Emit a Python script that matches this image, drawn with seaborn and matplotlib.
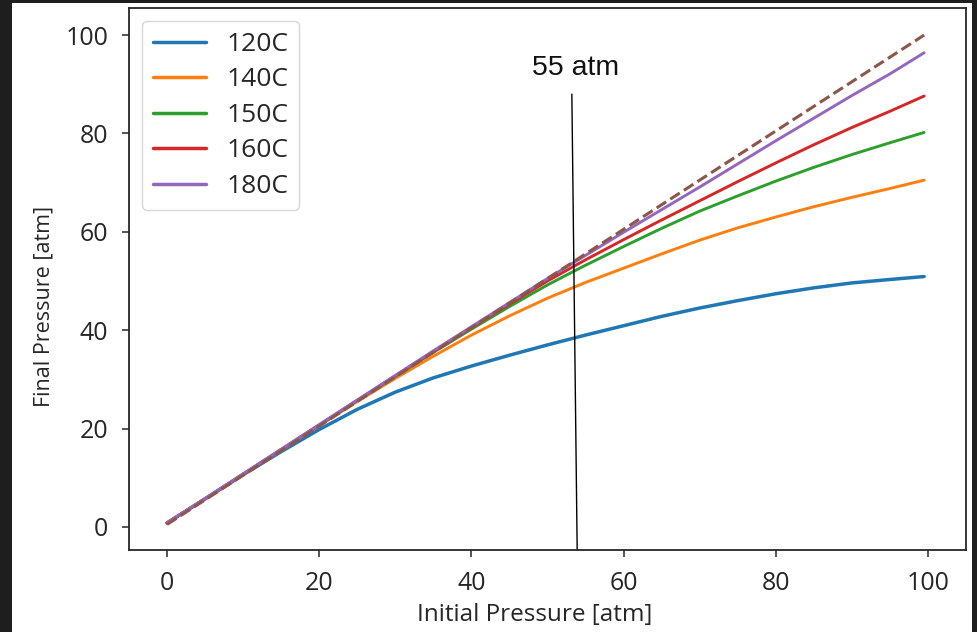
import matplotlib
matplotlib.use("Agg")
import matplotlib.pyplot as plt
import seaborn as sns
import pandas as pd
from matplotlib.patches import Rectangle

# Initial pressure grid [atm]
initial_p = [0, 5, 10, 15, 20, 25, 30, 35, 40, 45, 50,
             55, 60, 65, 70, 75, 80, 85, 90, 95, 99.5]

# Final pressure [atm] for each temperature
final_120 = [0.8, 5.7, 10.6, 15.3, 19.8, 23.9, 27.4, 30.3, 32.7, 34.9, 37.0,
             39.0, 40.9, 42.8, 44.5, 46.0, 47.4, 48.6, 49.6, 50.3, 50.9]
final_140 = [0.8, 5.7, 10.7, 15.6, 20.6, 25.5, 30.2, 34.7, 39.0, 42.9, 46.5,
             49.7, 52.6, 55.5, 58.3, 60.8, 63.0, 65.1, 67.0, 68.8, 70.5]
final_150 = [0.8, 5.7, 10.7, 15.7, 20.7, 25.7, 30.6, 35.5, 40.2, 44.8, 49.2,
             53.2, 57.0, 60.7, 64.2, 67.3, 70.3, 73.1, 75.7, 78.1, 80.2]
final_160 = [0.8, 5.7, 10.7, 15.7, 20.7, 25.7, 30.7, 35.6, 40.5, 45.3, 50.0,
             54.3, 58.4, 62.4, 66.3, 70.2, 74.0, 77.7, 81.2, 84.5, 87.6]
final_180 = [0.8, 5.8, 10.8, 15.8, 20.8, 25.8, 30.8, 35.8, 40.7, 45.6, 50.5,
             55.2, 59.9, 64.5, 69.1, 73.8, 78.5, 83.1, 87.7, 92.1, 96.4]
temperatures = ["120C", "140C", "150C", "160C", "180C"]

# Reference line: final equals initial
ref_x = [0, 99.5]
ref_y = [0.5, 100]

# Annotation line and label
marker_label = "55 atm"
marker_x = [53.2, 53.9]
marker_y = [88.0, -4.7]
label_pos = (53.7, 93.3)

sns.set_theme(style="ticks")
plt.rcParams["font.family"] = ["Open Sans", "DejaVu Sans"]

series = [final_120, final_140, final_150, final_160, final_180]
df = pd.DataFrame({
    "Initial": [x for _ in temperatures for x in initial_p],
    "Final": [v for s in series for v in s],
    "Temp": [t for t in temperatures for _ in initial_p],
})

fig = plt.figure(figsize=(9.77, 6.32), dpi=100, facecolor="#1e1e1e")
fig.patches.append(Rectangle((12 / 977, 0), 960 / 977, 629 / 632,
                             transform=fig.transFigure, facecolor="white",
                             edgecolor="none", zorder=-10))
ax = fig.add_axes([129 / 977, 1 - 550 / 632, 837 / 977, 542 / 632])
ax.set_facecolor("white")

palette = sns.color_palette("tab10", 6)
sns.lineplot(data=df, x="Initial", y="Final", hue="Temp",
             palette=palette[:5], linewidth=2.1, ax=ax)
ax.get_lines()[0].set_linewidth(2.5)
sns.lineplot(x=ref_x, y=ref_y, color=palette[5], linestyle="--",
             linewidth=2.2, ax=ax, legend=False)

ax.plot(marker_x, marker_y, color="black", linewidth=1.0)
ax.text(label_pos[0], label_pos[1], marker_label, ha="center", va="center",
        fontsize=20.5, family=["Liberation Sans", "DejaVu Sans"], color="#111111")

ax.set_xlim(-5, 105)
ax.set_ylim(-4.7, 105.5)
ax.set_xticks([0, 20, 40, 60, 80, 100])
ax.set_yticks([0, 20, 40, 60, 80, 100])
ax.tick_params(labelsize=18, colors="#262626", length=5, width=1.1)
ax.tick_params(axis="x", pad=10)
ax.tick_params(axis="y", pad=10)
ax.set_xlabel("Initial Pressure [atm]", fontsize=17.5, color="#262626")
ax.set_ylabel("Final Pressure [atm]", fontsize=15.5, color="#262626")
ax.xaxis.set_label_coords(0.4845, -0.098)
ax.yaxis.set_label_coords(-0.089, 0.449)
for s in ax.spines.values():
    s.set_color("#262626")
    s.set_linewidth(1.3)

ax.legend(loc="upper left", fontsize=19, frameon=True, title=None,
          handlelength=2.0, borderaxespad=0.5, labelspacing=0.4)
for ln in ax.get_legend().get_lines():
    ln.set_linewidth(2.5)

fig.savefig("out.png", dpi=100, facecolor=fig.get_facecolor())
